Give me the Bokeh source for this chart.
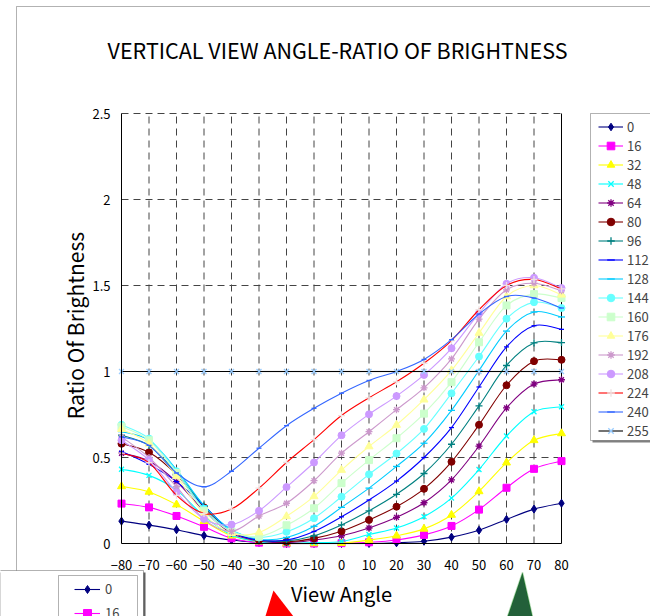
import numpy as np
from bokeh.plotting import figure
from bokeh.models import (Range1d, FixedTicker, Legend, LegendItem, Label, BoxAnnotation,
                          PolyAnnotation, ColumnDataSource, LinearAxis)
from bokeh.embed import file_html
from bokeh.resources import INLINE

# ---------------- data ----------------
angles = [-80, -70, -60, -50, -40, -30, -20, -10, 0, 10, 20, 30, 40, 50, 60, 70, 80]
x_tick_labels = ["\u221280", "\u221270", "\u221260", "\u221250", "\u221240", "\u221230", "\u221220", "\u221210",
                 "0", "10", "20", "30", "40", "50", "60", "70", "80"]
y_ticks = [0, 0.5, 1, 1.5, 2, 2.5]
y_tick_labels = ["0", "0.5", "1", "1.5", "2", "2.5"]

series_names = ["0", "16", "32", "48", "64", "80", "96", "112", "128", "144",
                "160", "176", "192", "208", "224", "240", "255"]

s0 = [0.13, 0.107, 0.08, 0.046, 0.02, 0.006, 0.0, 0.0, 0.0, 0.0, 0.004, 0.013, 0.037, 0.077, 0.14, 0.2, 0.234]
s16 = [0.232, 0.21, 0.16, 0.097, 0.03, 0.005, 0.0, 0.0, 0.002, 0.007, 0.02, 0.05, 0.102, 0.197, 0.324, 0.434, 0.479]
s32 = [0.332, 0.3, 0.226, 0.13, 0.045, 0.01, 0.0, 0.0, 0.002, 0.02, 0.045, 0.085, 0.166, 0.303, 0.47, 0.6, 0.64]
s48 = [0.432, 0.396, 0.31, 0.16, 0.05, 0.01, 0.0, 0.005, 0.012, 0.052, 0.09, 0.156, 0.264, 0.43, 0.625, 0.766, 0.795]
s64 = [0.525, 0.48, 0.36, 0.19, 0.06, 0.015, 0.005, 0.02, 0.045, 0.09, 0.152, 0.237, 0.37, 0.566, 0.788, 0.927, 0.952]
s80 = [0.58, 0.53, 0.4, 0.21, 0.07, 0.02, 0.01, 0.03, 0.071, 0.137, 0.214, 0.318, 0.475, 0.69, 0.92, 1.06, 1.068]
s96 = [0.63, 0.57, 0.41, 0.22, 0.07, 0.02, 0.015, 0.045, 0.108, 0.19, 0.286, 0.407, 0.577, 0.8, 1.035, 1.166, 1.168]
s112 = [0.535, 0.46, 0.36, 0.22, 0.07, 0.02, 0.02, 0.07, 0.155, 0.253, 0.363, 0.5, 0.674, 0.91, 1.143, 1.266, 1.245]
s128 = [0.65, 0.6, 0.43, 0.22, 0.08, 0.025, 0.035, 0.1, 0.21, 0.322, 0.448, 0.583, 0.774, 1.006, 1.235, 1.346, 1.317]
s144 = [0.69, 0.61, 0.42, 0.2, 0.075, 0.035, 0.068, 0.147, 0.272, 0.402, 0.523, 0.666, 0.873, 1.087, 1.307, 1.403, 1.369]
s160 = [0.68, 0.6, 0.41, 0.19, 0.07, 0.04, 0.106, 0.205, 0.351, 0.485, 0.612, 0.755, 0.938, 1.17, 1.384, 1.45, 1.427]
s176 = [0.665, 0.58, 0.39, 0.17, 0.06, 0.064, 0.158, 0.274, 0.427, 0.564, 0.689, 0.836, 1.006, 1.224, 1.436, 1.5, 1.446]
s192 = [0.62, 0.5, 0.33, 0.14, 0.07, 0.16, 0.234, 0.365, 0.525, 0.65, 0.778, 0.905, 1.073, 1.305, 1.475, 1.513, 1.469]
s208 = [0.6, 0.485, 0.297, 0.143, 0.11, 0.19, 0.328, 0.471, 0.629, 0.751, 0.857, 0.98, 1.135, 1.338, 1.51, 1.545, 1.485]
s224 = [0.525, 0.47, 0.28, 0.175, 0.2, 0.322, 0.471, 0.604, 0.744, 0.847, 0.94, 1.048, 1.18, 1.359, 1.5, 1.535, 1.48]
s240 = [0.62, 0.57, 0.41, 0.33, 0.42, 0.554, 0.685, 0.786, 0.874, 0.948, 1.0, 1.07, 1.185, 1.334, 1.436, 1.427, 1.369]
s255 = [1.0, 1.0, 1.0, 1.0, 1.0, 1.0, 1.0, 1.0, 1.0, 1.0, 1.0, 1.0, 1.0, 1.0, 1.0, 1.0, 1.0]

series_values = [s0, s16, s32, s48, s64, s80, s96, s112, s128, s144,
                 s160, s176, s192, s208, s224, s240, s255]

line_colors = ["#000080", "#FF00FF", "#FFFF00", "#00FFFF", "#800080", "#800000", "#008080", "#0000FF",
               "#00CCFF", "#66FFFF", "#CCFFCC", "#FFFF99", "#CC99CC", "#CC99FF", "#FF0000", "#3366FF", "#000000"]
marker_colors = ["#000080", "#FF00FF", "#FFFF00", "#00FFFF", "#800080", "#800000", "#008080", "#0000FF",
                 "#00CCFF", "#66FFFF", "#CCFFCC", "#FFFF99", "#CC99CC", "#CC99FF", "#EFE0E0", "#3366FF", "#99CCFF"]
markers = ["diamond", "square", "triangle", "x", "asterisk", "circle", "cross", "dash",
           "dash", "circle", "square", "triangle", "asterisk", "circle", "cross", "dash", "x"]
marker_sizes = [8, 7, 8, 7, 7, 7, 7, 5, 7, 7, 7, 8, 7, 7, 7, 5, 7]

FONT = "Noto Sans CJK JP"

# ---------------- geometry (page pixels) ----------------
W, H = 650, 616
PX_L, PX_R, PX_T, PX_B = 121, 561, 113, 543        # plot-area edges in page pixels
x_lo, x_hi = angles[0], angles[-1]
y_lo, y_hi = y_ticks[0], y_ticks[-1]
kx = (PX_R - PX_L) / (x_hi - x_lo)
ky = (PX_B - PX_T) / (y_hi - y_lo)
x_range = Range1d(x_lo - PX_L / kx, x_lo + (W - PX_L) / kx)
y_range = Range1d(y_lo - (H - PX_B) / ky, y_lo + PX_B / ky)

p = figure(width=W, height=H, x_range=x_range, y_range=y_range,
           output_backend="svg", toolbar_location=None, title=None,
           x_axis_location=None, y_axis_location=None,
           min_border_left=0, min_border_right=0, min_border_top=0, min_border_bottom=0)
p.outline_line_color = None
p.background_fill_color = "white"
p.border_fill_color = "white"
for g in p.grid:
    g.visible = False


def sy(y_page):
    return H - y_page


# ---------------- axes ----------------
xaxis = LinearAxis(fixed_location=y_lo, bounds=(x_lo, x_hi), ticker=FixedTicker(ticks=angles),
                   major_label_overrides=dict(zip(angles, x_tick_labels)))
yaxis = LinearAxis(fixed_location=x_lo, bounds=(y_lo, y_hi), ticker=FixedTicker(ticks=y_ticks),
                   major_label_overrides=dict(zip(y_ticks, y_tick_labels)))
for ax in (xaxis, yaxis):
    ax.major_tick_line_color = None
    ax.minor_tick_line_color = None
    ax.major_tick_out = 0
    ax.major_tick_in = 0
    ax.minor_tick_out = 0
    ax.minor_tick_in = 0
    ax.axis_line_color = "black"
    ax.axis_line_width = 1
    ax.major_label_text_font = FONT
    ax.major_label_text_font_size = "13px"
    ax.major_label_text_color = "black"
xaxis.major_label_standoff = 16
yaxis.major_label_standoff = 11
p.add_layout(xaxis, "below")
p.add_layout(yaxis, "left")

# ---------------- grid (dashed) & right border ----------------
gx = angles[1:-1]
p.segment(x0=gx, y0=[y_lo] * len(gx), x1=gx, y1=[y_hi] * len(gx),
          line_color="#444444", line_dash="7 5", line_width=1)
gy = y_ticks[1:]
p.segment(x0=[x_lo] * len(gy), y0=gy, x1=[x_hi] * len(gy), y1=gy,
          line_color="#444444", line_dash="7 5", line_width=1)
p.segment(x0=[x_hi], y0=[y_lo], x1=[x_hi], y1=[y_hi], line_color="black", line_width=1)


# ---------------- curves ----------------
def bezier_cols(x, y):
    x = np.asarray(x, float)
    y = np.asarray(y, float)
    xe = np.concatenate([[x[0]], x, [x[-1]]])
    ye = np.concatenate([[y[0]], y, [y[-1]]])
    x0, y0 = x[:-1], y[:-1]
    x1, y1 = x[1:], y[1:]
    cx0 = x0 + (xe[2:-1] - xe[:-3]) / 6.0
    cy0 = np.maximum(y0 + (ye[2:-1] - ye[:-3]) / 6.0, 0)
    cx1 = x1 - (xe[3:] - xe[1:-2]) / 6.0
    cy1 = np.maximum(y1 - (ye[3:] - ye[1:-2]) / 6.0, 0)
    return dict(x0=x0, y0=y0, x1=x1, y1=y1, cx0=cx0, cy0=cy0, cx1=cx1, cy1=cy1)


legend_items = []
legend_refs = []
for name, vals, lc, mc, mk, ms in zip(series_names, series_values, line_colors, marker_colors,
                                       markers, marker_sizes):
    src = ColumnDataSource(bezier_cols(angles, vals))
    p.bezier(x0="x0", y0="y0", x1="x1", y1="y1", cx0="cx0", cy0="cy0", cx1="cx1", cy1="cy1",
             source=src, line_color=lc, line_width=1.1)
    # line renderer without visible points: only provides the legend's line sample
    lr = p.line(x=[np.nan], y=[np.nan], line_color=lc, line_width=1.1)
    sr = p.scatter(x=angles, y=vals, marker=mk, size=ms, fill_color=mc, line_color=mc,
                   line_width=1.3 if mk in ("x", "asterisk", "cross", "dash") else 1)
    legend_items.append(LegendItem(label=name, renderers=[lr, sr]))
    legend_refs.append((lr, sr))


def box(l, r, t, b, **kw):
    return BoxAnnotation(left=l, right=r, top=sy(t), bottom=sy(b), left_units="screen",
                         right_units="screen", top_units="screen", bottom_units="screen", **kw)


# outer chart window border (left and top edges visible)
p.add_layout(box(16, 900, 6, 900, fill_alpha=0, line_color="black", line_width=1))

# main legend box
p.add_layout(box(592, 900, 115, 442, fill_color="#808080", fill_alpha=1, line_color=None))
p.add_layout(box(590, 900, 113, 440, fill_color="white", fill_alpha=1, line_color="black", line_width=1))
legend = Legend(items=legend_items, location=(598, sy(439.5)), padding=0, spacing=0,
                glyph_width=25, glyph_height=19, label_height=19, label_standoff=4,
                label_text_font=FONT, label_text_font_size="13px",
                border_line_color=None, background_fill_alpha=0, margin=0)
p.add_layout(legend)

# overlapping window at the bottom-left
p.add_layout(box(-10, 145, 572, 900, fill_color="#606060", fill_alpha=1, line_color=None))
p.add_layout(box(-10, 143, 570, 900, fill_color="white", fill_alpha=1, line_color="black", line_width=1))
p.add_layout(box(58, 137, 575, 900, fill_color="white", fill_alpha=1, line_color="black", line_width=1))
legend2 = Legend(items=[LegendItem(label=series_names[0], renderers=list(legend_refs[0])),
                        LegendItem(label=series_names[1], renderers=list(legend_refs[1]))],
                 location=(74, sy(622.7)), padding=0, spacing=4,
                 glyph_width=26, glyph_height=20, label_height=20, label_standoff=5,
                 label_text_font=FONT, label_text_font_size="13px",
                 border_line_color=None, background_fill_alpha=0, margin=0)
p.add_layout(legend2)

# triangles of overlapping windows
p.add_layout(PolyAnnotation(xs=[273, 262, 300], ys=[sy(590), sy(625), sy(625)],
                            xs_units="screen", ys_units="screen",
                            fill_color="#FF0000", fill_alpha=1, line_color=None))
p.add_layout(PolyAnnotation(xs=[522, 504, 534], ys=[sy(572), sy(625), sy(625)],
                            xs_units="screen", ys_units="screen",
                            fill_color="#23603A", fill_alpha=1, line_color="#0A8A0A", line_width=1.5))

# ---------------- texts ----------------
p.add_layout(Label(x=337, y=sy(49), x_units="screen", y_units="screen",
                   text="VERTICAL VIEW ANGLE-RATIO OF BRIGHTNESS", text_align="center",
                   text_baseline="middle", text_font=FONT, text_font_size="21.5px", text_color="black"))
p.add_layout(Label(x=74, y=sy(325), x_units="screen", y_units="screen", angle=np.pi / 2,
                   text="Ratio Of Brightness", text_align="center",
                   text_baseline="middle", text_font=FONT, text_font_size="21px", text_color="black"))
p.add_layout(Label(x=341, y=sy(593), x_units="screen", y_units="screen",
                   text="View Angle", text_align="center",
                   text_baseline="middle", text_font=FONT, text_font_size="20px", text_color="black"))

open("out.html", "w").write(file_html(p, INLINE))
